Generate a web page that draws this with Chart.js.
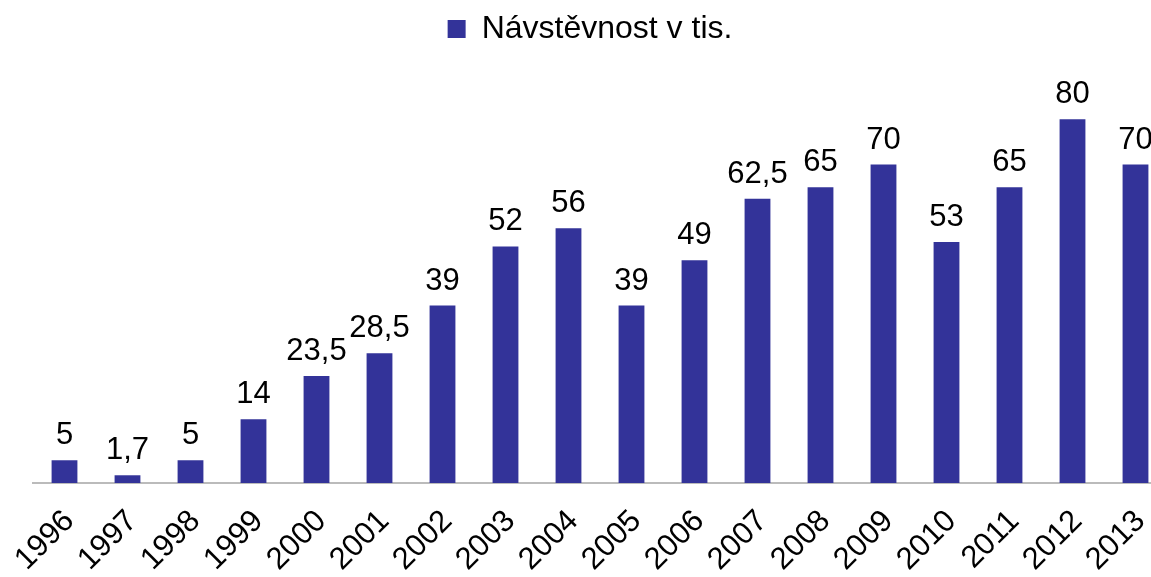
<!DOCTYPE html>
<html>
<head>
<meta charset="utf-8">
<script src="https://cdn.jsdelivr.net/npm/chart.js@4.4.0/dist/chart.umd.min.js"></script>
<style>
  html, body { margin: 0; padding: 0; background: #fff; overflow: hidden; }
  #chart { display: block; }
</style>
</head>
<body>
<canvas id="chart" width="1180" height="577"></canvas>
<script>
const roky = ["1996", "1997", "1998", "1999", "2000", "2001", "2002", "2003", "2004",
  "2005", "2006", "2007", "2008", "2009", "2010", "2011", "2012", "2013"];
const navstevnost = [5, 1.7, 5, 14, 23.5, 28.5, 39, 52, 56, 39, 49, 62.5, 65, 70, 53, 65, 80, 70];
const nazevRady = "Návstěvnost v tis.";

const pismo = "'Liberation Sans', Arial, sans-serif";

// hodnoty nad sloupci, desetinná čárka
const popisky = {
  id: "popisky",
  afterLayout(chart) {
    // legenda trochu doleva od středu plátna
    chart.legend.left -= 10;
    chart.legend.right -= 10;
  },
  afterDatasetsDraw(chart) {
    const ctx = chart.ctx;
    const meta = chart.getDatasetMeta(0);
    ctx.save();
    ctx.font = "31px " + pismo;
    ctx.fillStyle = "#000";
    ctx.textAlign = "center";
    ctx.textBaseline = "alphabetic";
    meta.data.forEach((bar, i) => {
      const text = String(navstevnost[i]).replace(".", ",");
      ctx.fillText(text, bar.x, bar.y - 16);
    });
    ctx.restore();
  }
};

const ctx = document.getElementById("chart").getContext("2d");
new Chart(ctx, {
  type: "bar",
  data: {
    labels: roky,
    datasets: [{
      label: nazevRady,
      data: navstevnost,
      backgroundColor: "#333399",
      borderWidth: 0,
      barPercentage: 0.82,
      categoryPercentage: 0.5
    }]
  },
  options: {
    responsive: false,
    animation: false,
    layout: { padding: { left: 33, right: 13, top: 0, bottom: 0 } },
    plugins: {
      legend: {
        display: true,
        position: "top",
        labels: {
          boxWidth: 18,
          boxHeight: 18,
          padding: 13,
          color: "#000",
          font: { size: 32, family: pismo }
        }
      },
      tooltip: { enabled: false }
    },
    scales: {
      x: {
        grid: { display: false },
        border: { display: true, color: "#bbbbbb", width: 2 },
        ticks: {
          color: "#000",
          font: { size: 31, family: pismo },
          minRotation: 45,
          maxRotation: 45,
          padding: 12,
          labelOffset: 5
        },
        afterFit(scale) { scale.height = 94; }
      },
      y: {
        display: false,
        min: 0,
        max: 94.1
      }
    }
  },
  plugins: [popisky]
});
</script>
</body>
</html>
